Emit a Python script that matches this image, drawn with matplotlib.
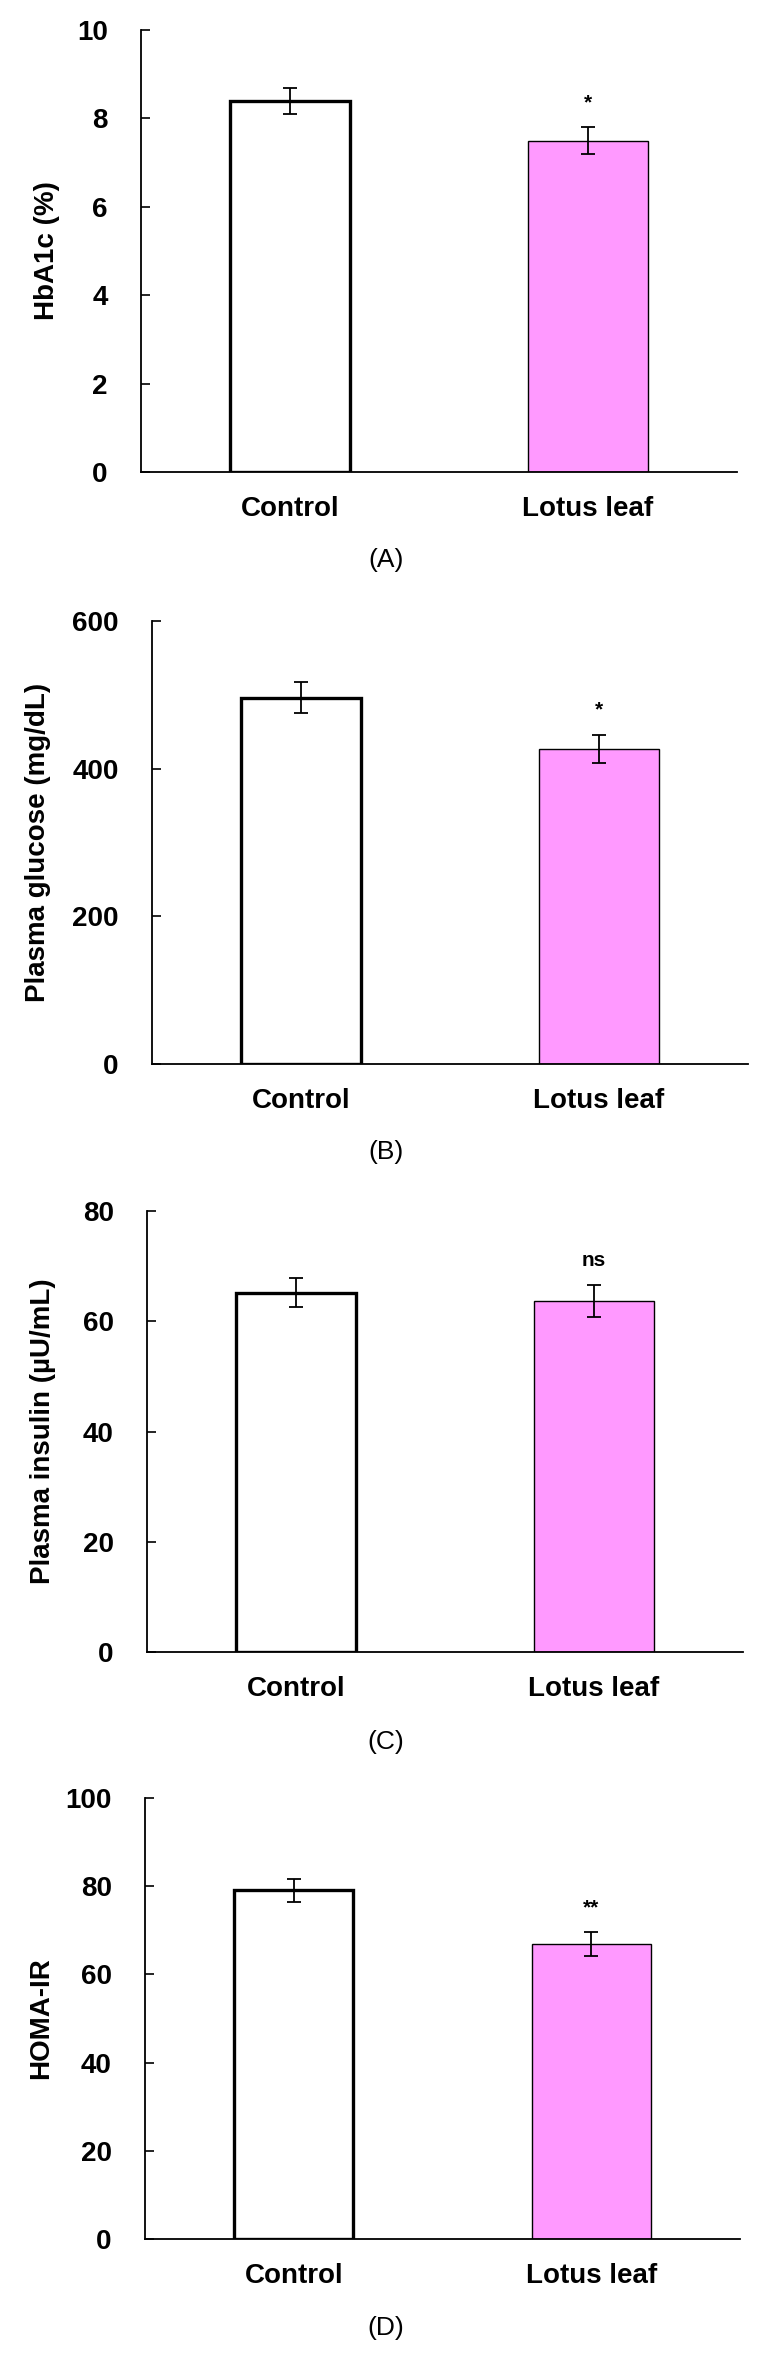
import matplotlib
matplotlib.use("Agg")
import matplotlib.pyplot as plt

plt.rcParams["font.family"] = ["Liberation Sans", "DejaVu Sans"]

# 数据
groups = ["Control", "Lotus leaf"]
hba1c = [8.39, 7.50]
hba1c_err = [0.30, 0.30]
glucose = [496, 427]
glucose_err = [21, 19]
insulin = [65.2, 63.7]
insulin_err = [2.6, 2.9]
homa = [79.1, 66.9]
homa_err = [2.6, 2.7]

panels = [
    ("HbA1c (%)", hba1c, hba1c_err, 10, 2, "*", "(A)"),
    ("Plasma glucose (mg/dL)", glucose, glucose_err, 600, 200, "*", "(B)"),
    ("Plasma insulin (\u00b5U/mL)", insulin, insulin_err, 80, 20, "ns", "(C)"),
    ("HOMA-IR", homa, homa_err, 100, 20, "**", "(D)"),
]

W, H = 768, 2355
# 每个子图的像素框 (左, 右, 上, 下) 以及面板标签的高度
boxes = [(141, 737, 30, 472), (152, 748, 621, 1064),
         (147, 743, 1211, 1652), (145, 740, 1798, 2239)]
label_y = [560, 1152, 1742, 2328]
ylabel_x = [60, 51, 56, 54]   # y轴标题右边缘

fig = plt.figure(figsize=(W / 100, H / 100), dpi=100)

for i, (ylab, vals, errs, ymax, step, mark, tag) in enumerate(panels):
    l, r, t, b = boxes[i]
    ax = fig.add_axes([l / W, 1 - b / H, (r - l) / W, (b - t) / H])
    x = [0, 1]
    ax.bar(x[0], vals[0], width=0.4, color="white", edgecolor="black", linewidth=2.4, zorder=2)
    ax.bar(x[1], vals[1], width=0.4, color="#ff99ff", edgecolor="black", linewidth=1.0, zorder=2)
    ax.errorbar(x, vals, yerr=errs, fmt="none", ecolor="black", elinewidth=1.3,
                capsize=4.7, capthick=1.3, zorder=3)
    # 显著性标记
    top = vals[1] + errs[1]
    ax.text(1, top + ymax * 0.055, mark, ha="center", va="center",
            fontsize=15, fontweight="bold")
    ax.set_xlim(-0.5, 1.5)
    ax.set_ylim(0, ymax)
    ax.set_yticks(range(0, ymax + 1, step))
    ax.set_xticks(x)
    ax.set_xticklabels(groups, fontsize=20, fontweight="bold")
    ax.tick_params(axis="x", length=0, pad=17)
    ax.tick_params(axis="y", direction="in", length=6.5, width=1.2, labelsize=20, pad=24)
    for lab in ax.get_yticklabels():
        lab.set_fontweight("bold")
    for s in ["top", "right"]:
        ax.spines[s].set_visible(False)
    for s in ["left", "bottom"]:
        ax.spines[s].set_linewidth(1.3)
    ax.set_ylabel(ylab, fontsize=20, fontweight="bold")
    ax.yaxis.set_label_coords((ylabel_x[i] - l) / (r - l), 0.5)
    fig.text(386 / W, 1 - label_y[i] / H, tag, ha="center", va="center", fontsize=19)

plt.savefig("out.png", dpi=100)
